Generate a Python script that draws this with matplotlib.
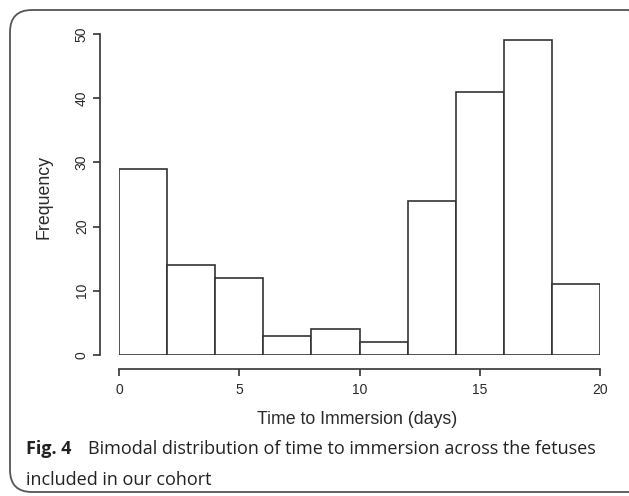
import matplotlib.pyplot as plt
import numpy as np
from matplotlib.patches import FancyBboxPatch

# histogram data: bin edges (days) and counts
bin_edges = [0, 2, 4, 6, 8, 10, 12, 14, 16, 18, 20]
counts = [29, 14, 12, 3, 4, 2, 24, 41, 49, 11]
x_ticks = [0, 5, 10, 15, 20]
y_ticks = [0, 10, 20, 30, 40, 50]

W, H = 629, 496
fig = plt.figure(figsize=(W / 100, H / 100), dpi=100)

# outer rounded frame
frame = FancyBboxPatch((10 / W, 4 / H), 640 / W, 482 / H,
                       boxstyle="round,pad=0,rounding_size=0.035",
                       transform=fig.transFigure, facecolor='none',
                       edgecolor='#555555', linewidth=1.3, mutation_aspect=W / H)
fig.patches.append(frame)

ax = fig.add_axes([119 / W, (H - 355) / H, 481 / W, 321 / H])
widths = np.diff(bin_edges)
ax.bar(bin_edges[:-1], counts, width=widths, align='edge',
       color='white', edgecolor='#333333', linewidth=1.2)
ax.set_xlim(0, 20)
ax.set_ylim(0, 50)

ax.spines['top'].set_visible(False)
ax.spines['right'].set_visible(False)
ax.spines['left'].set_position(('outward', 13.7))
ax.spines['bottom'].set_position(('outward', 10))
ax.spines['left'].set_bounds(0, 50)
ax.spines['bottom'].set_bounds(0, 20)
for s in ['left', 'bottom']:
    ax.spines[s].set_color('#333333')
    ax.spines[s].set_linewidth(1.2)

ax.set_xticks(x_ticks)
ax.set_yticks(y_ticks)
ax.tick_params(length=5, width=1.2, color='#333333', labelcolor='#2a2a2a',
               labelsize=10)
ax.tick_params(axis='y', pad=3)
ax.tick_params(axis='x', pad=5)
for lbl in ax.get_yticklabels():
    lbl.set_rotation(90)
    lbl.set_va('center')
for lbl in ax.get_xticklabels() + ax.get_yticklabels():
    lbl.set_family('Liberation Sans')

fig.text(357 / W, 1 - 420 / H, 'Time to Immersion (days)', ha='center', va='center',
         fontsize=12.8, color='#2a2a2a', family='Liberation Sans')
fig.text(44 / W, 1 - 197 / H, 'Frequency', ha='center', va='center', rotation=90,
         fontsize=12.8, color='#2a2a2a', family='Liberation Sans')

# caption
fig.text(26 / W, 1 - 449 / H, 'Fig. 4', ha='left', va='center', fontsize=13,
         fontweight='bold', family='Open Sans', color='#222222')
fig.text(88 / W, 1 - 449 / H,
         'Bimodal distribution of time to immersion across the fetuses',
         ha='left', va='center', fontsize=13, family='Open Sans', color='#222222')
fig.text(26 / W, 1 - 480 / H, 'included in our cohort', ha='left', va='center',
         fontsize=13, family='Open Sans', color='#222222')

fig.savefig('out.png', dpi=100)
